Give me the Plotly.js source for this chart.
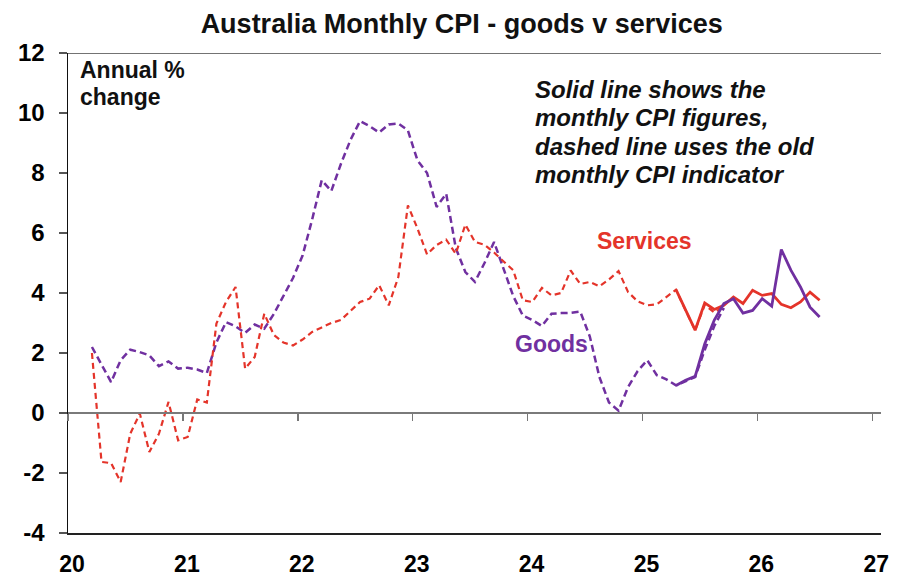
<!DOCTYPE html>
<html>
<head>
<meta charset="utf-8">
<script src="https://cdn.plot.ly/plotly-3.0.1.min.js"></script>
<style>
  body { margin: 0; background: #fff; }
  #chart { width: 900px; height: 584px; }
</style>
</head>
<body>
<div id="chart"></div>
<script>
// monthly points, Mar 2020 .. Jul 2026, plotted mid-month on a "year" axis (20 = 2020)
const nMonths = 77;
const months = [];
for (let i = 0; i < nMonths; i++) months.push(20 + (i + 2.5) / 12);

// old monthly CPI indicator (dashed), Mar 2020 .. Sep 2025
const goodsOld = [2.2, 1.6, 1.03, 1.76, 2.11, 2.03, 1.92, 1.56, 1.72, 1.48,
  1.51, 1.45, 1.33, 2.35, 3.03, 2.89, 2.67, 2.95, 2.81, 3.3,
  3.9, 4.5, 5.25, 6.45, 7.76, 7.4, 8.3, 9.1, 9.73, 9.56,
  9.35, 9.62, 9.65, 9.42, 8.42, 8.0, 6.87, 7.31, 5.5, 4.7,
  4.37, 5.0, 5.7, 4.8, 3.9, 3.25, 3.1, 2.9, 3.31, 3.33,
  3.34, 3.38, 2.55, 1.2, 0.35, 0.08, 0.87, 1.4, 1.76, 1.26,
  1.12, 0.92, 1.05, 1.2, 2.1, 2.9, 3.5];
const servicesOld = [2.0, -1.63, -1.67, -2.3, -0.69, -0.02, -1.3, -0.69, 0.37, -0.91,
  -0.8, 0.45, 0.35, 2.98, 3.7, 4.2, 1.48, 1.87, 3.31, 2.6,
  2.35, 2.25, 2.45, 2.7, 2.85, 3.0, 3.1, 3.4, 3.7, 3.81,
  4.26, 3.59, 4.53, 6.92, 6.15, 5.29, 5.6, 5.78, 5.31, 6.28,
  5.7, 5.61, 5.35, 5.05, 4.76, 3.76, 3.7, 4.17, 3.92, 4.0,
  4.75, 4.3, 4.37, 4.22, 4.45, 4.73, 4.03, 3.72, 3.59, 3.62,
  3.85, 4.11, 3.42, 2.76, 3.6, 3.35, 3.55];

// new complete monthly CPI (solid), Apr 2025 .. Jul 2026
const newStart = 61;
const goodsNew = [0.92, 1.09, 1.22, 2.3, 3.1, 3.65, 3.81, 3.33, 3.42, 3.81,
  3.56, 5.45, 4.76, 4.2, 3.53, 3.2];
const servicesNew = [4.11, 3.42, 2.76, 3.67, 3.45, 3.59, 3.87, 3.65, 4.09, 3.92,
  3.98, 3.62, 3.51, 3.7, 4.03, 3.76];

const yearTicks = [20, 21, 22, 23, 24, 25, 26, 27];
const yTicks = [-4, -2, 0, 2, 4, 6, 8, 10, 12];

const noteLines = ['Solid line shows the', 'monthly CPI figures,',
  'dashed line uses the old', 'monthly CPI indicator'];
const unitLines = ['Annual %', 'change'];

const RED = 'rgb(228,52,42)';
const PURPLE = 'rgb(112,48,160)';
const FONT = '"Liberation Sans", Arial, sans-serif';
const X_RANGE = [20, 27.076];

const monthsOld = months.slice(0, goodsOld.length);
const monthsNew = months.slice(newStart, newStart + goodsNew.length);

const traces = [
  {x: monthsOld, y: goodsOld, type: 'scatter', mode: 'lines', name: 'Goods (old)',
   line: {color: PURPLE, width: 2.5, dash: '7px,4px'}},
  {x: monthsOld, y: servicesOld, type: 'scatter', mode: 'lines', name: 'Services (old)',
   line: {color: RED, width: 2.2, dash: '6px,4px'}},
  // solid goods sits on the crossing axis so that axis gets drawn
  {x: monthsNew, y: goodsNew, type: 'scatter', mode: 'lines', name: 'Goods', xaxis: 'x2',
   line: {color: PURPLE, width: 2.8}},
  {x: monthsNew, y: servicesNew, type: 'scatter', mode: 'lines', name: 'Services',
   line: {color: RED, width: 2.8}}
];

const annotations = [];
unitLines.forEach((t, i) => {
  annotations.push({text: '<b>' + t + '</b>', x: 20.09, y: 11.42 - i * 0.9,
    xanchor: 'left', yanchor: 'middle', showarrow: false,
    font: {family: FONT, size: 23, color: '#111'}});
});
noteLines.forEach((t, i) => {
  annotations.push({text: '<b><i>' + t + '</i></b>', x: 24.05, y: 10.79 - i * 0.95,
    xanchor: 'left', yanchor: 'middle', showarrow: false,
    font: {family: FONT, size: 24, color: '#111'}});
});
annotations.push(
  {text: '<b>Services</b>', x: 25.02, y: 5.72, xanchor: 'center', yanchor: 'middle',
   showarrow: false, font: {family: FONT, size: 23, color: RED}},
  {text: '<b>Goods</b>', x: 24.205, y: 2.29, xanchor: 'center', yanchor: 'middle',
   showarrow: false, font: {family: FONT, size: 23, color: PURPLE}}
);

const layout = {
  width: 900,
  height: 584,
  margin: {l: 68, r: 19, t: 53, b: 51},
  paper_bgcolor: '#fff',
  plot_bgcolor: '#fff',
  showlegend: false,
  font: {family: FONT, color: '#000'},
  title: {
    text: '<b>Australia Monthly CPI - goods v services</b>',
    font: {family: FONT, size: 27, color: '#111'},
    x: 0.513, xref: 'container', xanchor: 'center',
    y: 0.959, yref: 'container', yanchor: 'middle'
  },
  xaxis: {
    range: X_RANGE,
    tickvals: yearTicks,
    ticktext: yearTicks.map(String),
    ticks: '',
    showgrid: false,
    zeroline: false,
    showline: true,
    linecolor: '#222',
    linewidth: 1.5,
    ticklabelstandoff: 10,
    ticklabelshift: 4,
    tickfont: {family: FONT, size: 23, color: '#000', weight: 'bold'}
  },
  // the category axis crosses at 0 with its tick marks; labels stay at the bottom
  xaxis2: {
    overlaying: 'x',
    range: X_RANGE,
    anchor: 'free',
    position: 0.25,
    side: 'bottom',
    tickvals: yearTicks,
    ticks: 'outside',
    ticklen: 7,
    tickwidth: 1.5,
    tickcolor: '#777',
    showticklabels: false,
    showgrid: false,
    zeroline: false,
    showline: true,
    linecolor: '#7a7a7a',
    linewidth: 2
  },
  yaxis: {
    range: [-4, 12],
    tickvals: yTicks,
    ticktext: yTicks.map(String),
    ticks: 'outside',
    ticklen: 8,
    tickwidth: 1.5,
    tickcolor: '#555',
    showgrid: false,
    zeroline: false,
    showline: true,
    linecolor: '#111',
    linewidth: 1.5,
    ticklabelstandoff: 9,
    tickfont: {family: FONT, size: 24, color: '#000', weight: 'bold'}
  },
  shapes: [
    {type: 'line', xref: 'paper', x0: 0, x1: 1, yref: 'y', y0: 12, y1: 12,
     line: {color: '#444', width: 1.5}}
  ],
  annotations: annotations
};

const config = {staticPlot: true, displayModeBar: false};

Plotly.newPlot('chart', traces, layout, config);
</script>
</body>
</html>
